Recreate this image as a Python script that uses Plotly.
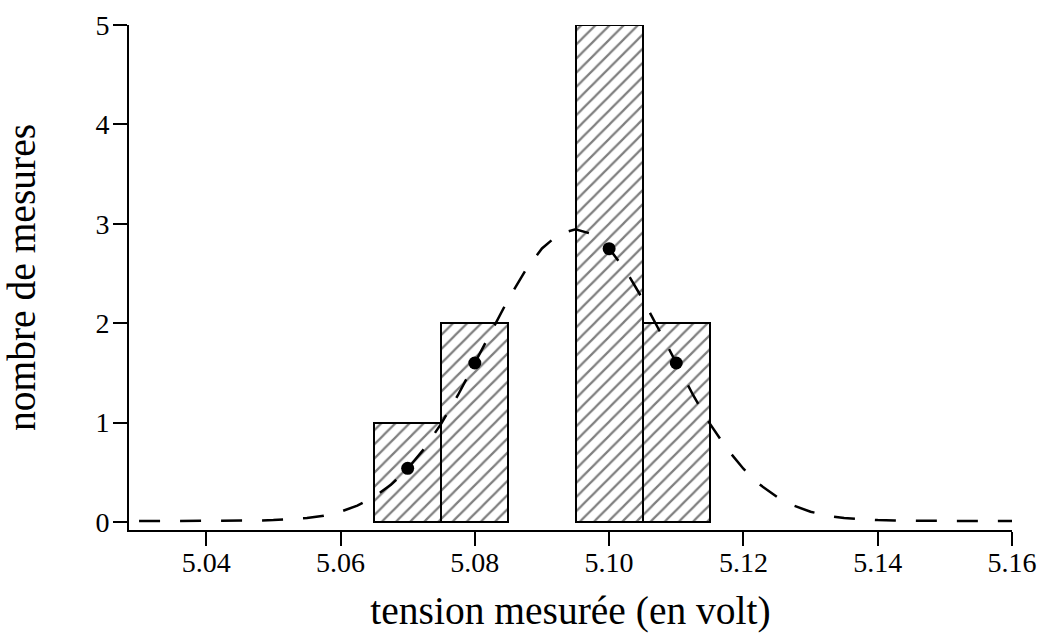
import plotly.graph_objects as go

# ---- data ----
bin_centers = [5.07, 5.08, 5.10, 5.11]
counts = [1, 2, 5, 2]
bin_width = 0.01

point_x = [5.07, 5.08, 5.10, 5.11]
point_y = [0.54, 1.60, 2.75, 1.60]

curve_x = [round(5.03 + 0.0025 * i, 4) for i in range(53)]
curve_y_left = [0.01, 0.01, 0.01, 0.01, 0.01, 0.01, 0.012, 0.015, 0.02, 0.027,
                0.04, 0.064, 0.104, 0.165, 0.253, 0.374, 0.536, 0.741, 0.990,
                1.278, 1.595, 1.924, 2.243, 2.527, 2.752, 2.896]
curve_peak = [2.946]
curve_y_right = [2.896, 2.752, 2.527, 2.243, 1.924, 1.595, 1.278, 0.990, 0.741,
                 0.536, 0.374, 0.253, 0.165, 0.104, 0.064, 0.04, 0.027, 0.02,
                 0.015, 0.012, 0.01, 0.01, 0.01, 0.01, 0.01, 0.01]
curve_y = curve_y_left + curve_peak + curve_y_right

x_ticks = [5.04, 5.06, 5.08, 5.10, 5.12, 5.14, 5.16]
y_ticks = [0, 1, 2, 3, 4, 5]

FONT = "Liberation Serif, Times New Roman, serif"

fig = go.Figure()
fig.add_trace(go.Bar(
    x=bin_centers, y=counts, width=bin_width,
    marker=dict(color="white", line=dict(color="black", width=2),
                pattern=dict(shape="/", fgcolor="black", bgcolor="white",
                             size=10, solidity=0.22)),
    showlegend=False, hoverinfo="skip"))
fig.add_trace(go.Scatter(
    x=curve_x, y=curve_y, mode="lines",
    line=dict(color="black", width=2.5, dash="21px,20px"),
    showlegend=False))
fig.add_trace(go.Scatter(
    x=point_x, y=point_y, mode="markers",
    marker=dict(color="black", size=13),
    showlegend=False))

fig.update_layout(
    width=1037, height=633,
    margin=dict(l=129, r=25, t=25, b=103),
    plot_bgcolor="white", paper_bgcolor="white",
    font=dict(family=FONT, color="black", size=28),
    bargap=0,
)
fig.update_xaxes(
    range=[5.0285, 5.16], tickvals=x_ticks, tickformat=".2f",
    showline=True, linecolor="black", linewidth=2,
    ticks="outside", ticklen=14, tickwidth=2, tickcolor="black",
    showgrid=False, zeroline=False, automargin=False,
    tickfont=dict(size=28), ticklabelstandoff=-8, ticklabeloverflow="allow",
    title=dict(text="tension mesurée (en volt)", font=dict(size=39.5), standoff=30),
)
fig.update_yaxes(
    range=[-0.08, 5], tickvals=y_ticks,
    showline=True, linecolor="black", linewidth=2,
    ticks="outside", ticklen=14, tickwidth=2, tickcolor="black",
    showgrid=False, zeroline=False, automargin=False,
    tickfont=dict(size=28), ticklabelstandoff=-2,
    title=dict(text="nombre de mesures", font=dict(size=39.5), standoff=48),
)

fig.write_html("out.html", config={"displayModeBar": False},
               post_script="document.body.style.margin='0';document.body.style.overflow='hidden';")
